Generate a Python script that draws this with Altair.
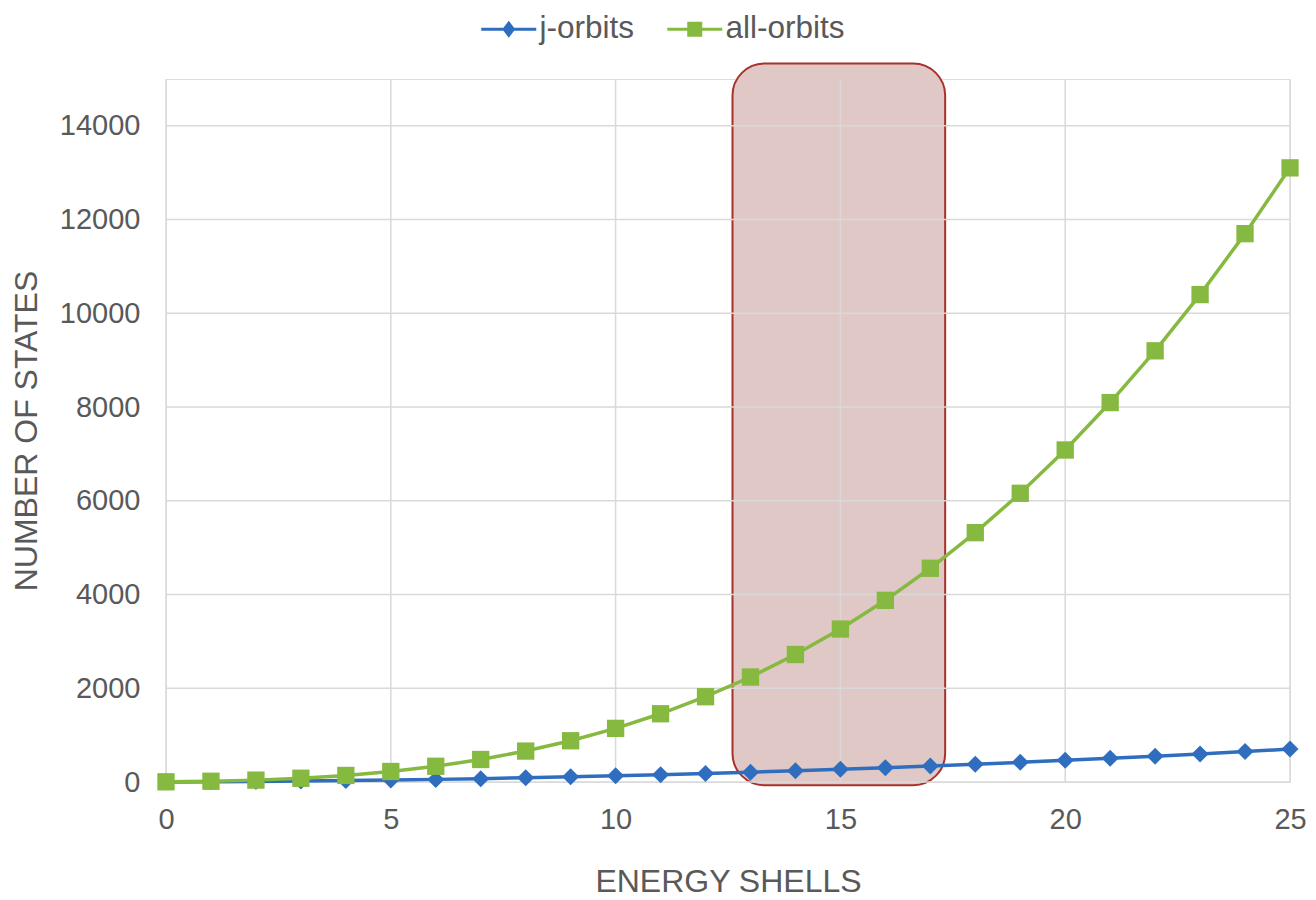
import altair as alt
import pandas as pd

# ---- data ----
shells = list(range(26))
j_orbits = [2, 6, 12, 20, 30, 42, 56, 72, 90, 110, 132, 156, 182, 210, 240,
            272, 306, 342, 380, 420, 462, 506, 552, 600, 650, 702]
all_orbits = [4, 16, 40, 80, 140, 224, 336, 480, 660, 880, 1144, 1456, 1820,
              2240, 2720, 3264, 3876, 4560, 5320, 6160, 7084, 8096, 9200,
              10400, 11700, 13104]
series_names = ["j-orbits", "all-orbits"]
x_ticks = [0, 5, 10, 15, 20, 25]
y_ticks = [0, 2000, 4000, 6000, 8000, 10000, 12000, 14000]
highlight_x = [12.6, 17.33]
highlight_y = [-70, 15330]

BLUE = "#2F6EBF"
GREEN = "#86B940"
GRID = "#D9D9D9"
TEXT = "#595959"
FONT = "Liberation Sans"

W, H = 1124, 703

df = pd.DataFrame({"shell": shells, "j": j_orbits, "all": all_orbits})
xgrid = pd.DataFrame({"v": x_ticks})
ygrid = pd.DataFrame({"v": y_ticks})
hl = pd.DataFrame({"x1": [highlight_x[0]], "x2": [highlight_x[1]],
                   "y1": [highlight_y[0]], "y2": [highlight_y[1]]})
leg = pd.DataFrame({"series": series_names})

xs = alt.Scale(domain=[0, 25], nice=False, zero=False)
ys = alt.Scale(domain=[0, 15000], nice=False)

x_axis = alt.Axis(values=x_ticks, grid=False, domain=False, ticks=False,
                  format="d",
                  labelFontSize=29, labelColor=TEXT, labelFont=FONT,
                  labelPadding=23, title="ENERGY SHELLS", titleFontSize=32,
                  titleColor=TEXT, titleFont=FONT, titleFontWeight="normal",
                  titlePadding=32, labelFlush=False)
y_axis = alt.Axis(values=y_ticks, grid=False, domain=False, ticks=False,
                  format="d",
                  labelFontSize=29, labelColor=TEXT, labelFont=FONT,
                  labelPadding=26, title="NUMBER OF STATES", titleFontSize=32,
                  titleColor=TEXT, titleFont=FONT, titleFontWeight="normal",
                  titlePadding=16)

rect = alt.Chart(hl).mark_rect(
    fill="#DFC8C5", stroke="#A8322A", strokeWidth=2, cornerRadius=32, clip=False
).encode(
    x=alt.X("x1:Q", scale=xs, axis=x_axis),
    x2="x2:Q",
    y=alt.Y("y1:Q", scale=ys, axis=y_axis),
    y2="y2:Q",
)

vgrid = alt.Chart(xgrid).mark_rule(color=GRID, strokeWidth=1.5).encode(
    x=alt.X("v:Q", scale=xs))
hgrid = alt.Chart(ygrid).mark_rule(color=GRID, strokeWidth=1.5).encode(
    y=alt.Y("v:Q", scale=ys))

base = alt.Chart(df)
line_j = base.mark_line(color=BLUE, strokeWidth=3.5).encode(
    x=alt.X("shell:Q", scale=xs), y=alt.Y("j:Q", scale=ys))
pts_j = base.mark_point(shape="diamond", filled=True, size=289, color=BLUE,
                        opacity=1).encode(
    x=alt.X("shell:Q", scale=xs), y=alt.Y("j:Q", scale=ys))
line_a = base.mark_line(color=GREEN, strokeWidth=3.5).encode(
    x=alt.X("shell:Q", scale=xs), y=alt.Y("all:Q", scale=ys))
pts_a = base.mark_point(shape="square", filled=True, size=300, color=GREEN,
                        opacity=1).encode(
    x=alt.X("shell:Q", scale=xs), y=alt.Y("all:Q", scale=ys))

diamond_leg = ("M-2.2,-0.12H2.2V0.12H-2.2Z "
               "M0,-0.68L0.52,0L0,0.68L-0.52,0Z")
square_leg = ("M-2.2,-0.12H2.2V0.12H-2.2Z "
              "M-0.6,-0.6H0.6V0.6H-0.6Z")

legend_layer = alt.Chart(leg).transform_filter("false").mark_point(
    filled=True, size=625, opacity=1).encode(
    color=alt.Color("series:N",
                    scale=alt.Scale(domain=series_names, range=[BLUE, GREEN]),
                    legend=alt.Legend(title=None, orient="none",
                                      direction="horizontal",
                                      legendX=327, legendY=-66,
                                      symbolSize=625, labelOffset=15,
                                      columnPadding=32,
                                      labelFontSize=31.5, labelColor=TEXT,
                                      labelFont=FONT, symbolStrokeWidth=0,
                                      symbolOpacity=1)),
    shape=alt.Shape("series:N",
                    scale=alt.Scale(domain=series_names,
                                    range=[diamond_leg, square_leg])),
)

chart = alt.layer(
    rect, vgrid, hgrid, line_j, line_a, pts_j, pts_a, legend_layer
).properties(
    width=W, height=H,
    autosize="none",
    padding={"left": 158, "top": 71, "right": 18, "bottom": 116},
).configure_view(stroke=None).configure(background="white")

chart.save("out.html", embed_options={"renderer": "svg", "actions": False})
